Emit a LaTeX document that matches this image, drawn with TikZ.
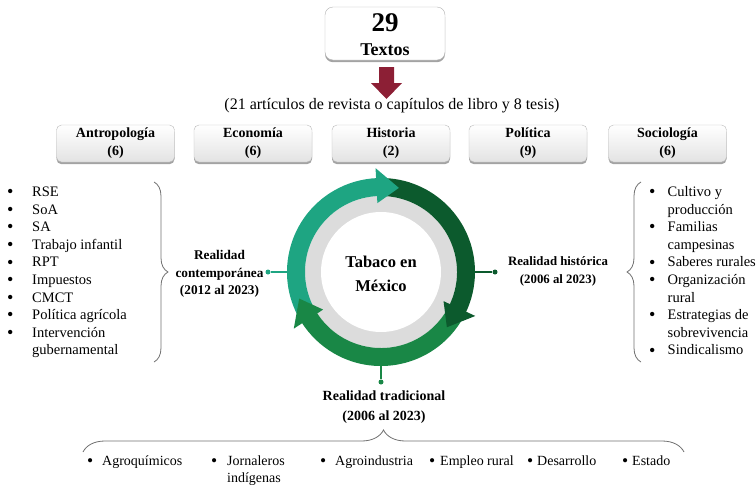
\documentclass[tikz,border=0pt]{standalone}
\usepackage{fontspec}
\usepackage{graphicx}
\setmainfont{Liberation Serif}
\usetikzlibrary{shadows,decorations.pathreplacing,calc}
\definecolor{tealA}{HTML}{1EA582}
\definecolor{dkgreen}{HTML}{0C5A2D}
\definecolor{mdgreen}{HTML}{198746}
\definecolor{ringgray}{HTML}{DCDCDC}
\definecolor{arrowred}{HTML}{8C1F35}
\definecolor{bracegray}{HTML}{707070}
\newcommand\mybul{\smash{\raisebox{-0.08em}{\scalebox{1.25}{\textbullet}}}}
\begin{document}
\begin{tikzpicture}[x=1pt,y=1pt,
  boxshadow/.style={drop shadow={shadow xshift=0pt,shadow yshift=-2.2pt,opacity=0.6,fill=black!60}},
  catbox/.style={draw=gray!55,rounded corners=5pt,top color=white,bottom color=gray!22,
    minimum width=118pt,minimum height=37pt,align=center,inner sep=0pt,
    font=\fontsize{14}{18}\selectfont\bfseries,boxshadow},
  topbox/.style={draw=gray!60,rounded corners=8pt,fill=white,minimum width=120pt,minimum height=53pt,
    inner sep=0pt,boxshadow},
  lbl/.style={align=center,inner sep=0pt},
  listnode/.style={inner sep=0pt,font=\fontsize{14.5}{17.6}\selectfont},
  itemnode/.style={inner sep=0pt,anchor=base west,font=\fontsize{14}{17}\selectfont},
  dot/.style={circle,inner sep=0pt,minimum size=5pt},
  conn/.style={line width=1.1pt},
  bracestyle/.style={draw=bracegray,line width=0.8pt,decorate},
]
\useasboundingbox (0,0) rectangle (756,-485);

% top box
\node[topbox] (total) at (385,-33.5) {};
\node[inner sep=0pt,font=\fontsize{27}{27}\selectfont\bfseries] (num) at (385,-23) {29};
\node[inner sep=0pt,font=\fontsize{18}{18}\selectfont\bfseries] (txt) at (385,-50) {Textos};

% red arrow
\coordinate (arTop) at (386.5,-67);
\fill[arrowred] (379,-67) -- (394,-67) -- (394,-83) -- (402,-83) -- (386.5,-99) -- (371,-83) -- (379,-83) -- cycle;

% subtitle
\node[inner sep=0pt,font=\fontsize{16}{18}\selectfont] (sub) at (392,-106)
  {(21 artículos de revista o capítulos de libro y 8 tesis)};

% categories
\node[catbox] (antro) at (115.5,-143.5) {Antropología\\(6)};
\node[catbox] (econ) at (253,-143.5) {Economía\\(6)};
\node[catbox] (hist) at (391,-143.5) {Historia\\(2)};
\node[catbox] (poli) at (528,-143.5) {Política\\(9)};
\node[catbox] (socio) at (667.5,-143.5) {Sociología\\(6)};

% ring
\node[circle,minimum size=188pt,inner sep=0pt] (ring) at (381,-272) {};
\begin{scope}[shift={(381,-272)}]
  \fill[ringgray] (0,0) circle (76);
  \fill[white] (0,0) circle (60);
  % bodies
  \fill[tealA] (210:94) arc[start angle=210,end angle=92,radius=94] -- (92:76) arc[start angle=92,end angle=210,radius=76] -- cycle;
  \fill[dkgreen] (90:94) arc[start angle=90,end angle=-26,radius=94] -- (-26:76) arc[start angle=-26,end angle=90,radius=76] -- cycle;
  \fill[mdgreen] (-30:94) arc[start angle=-30,end angle=-148,radius=94] -- (-148:76) arc[start angle=-148,end angle=-30,radius=76] -- cycle;
  % heads
  \fill[tealA] (93:104) -- (78:86) -- (93:69) -- cycle;
  \fill[dkgreen] (-25:104) -- (-40:86) -- (-25:69) -- cycle;
  \fill[mdgreen] (-147:104) -- (-162:86) -- (-147:69) -- cycle;
\end{scope}
\node[lbl,font=\fontsize{16.5}{24}\selectfont\bfseries] (ctext) at (381,-274) {Tabaco en\\México};

% connectors with dots
\node[dot,fill=tealA] (dL) at (268,-272) {};
\node[dot,fill=dkgreen] (dR) at (495,-272) {};
\node[dot,fill=mdgreen] (dB) at (381,-382) {};
\draw[conn,tealA] (ring.west) -- (dL);
\draw[conn,dkgreen] (ring.east) -- (dR);
\draw[conn,mdgreen] (ring.south) -- (dB);

% labels
\node[lbl,font=\fontsize{13.3}{17.5}\selectfont\bfseries] (lblL) at (219.5,-274) {Realidad\\contemporánea\\(2012 al 2023)};
\node[lbl,font=\fontsize{12.8}{18}\selectfont\bfseries] (lblR) at (558,-271) {Realidad histórica\\(2006 al 2023)};
\node[lbl,font=\fontsize{14}{19.5}\selectfont\bfseries] (lblB) at (384,-407) {Realidad tradicional\\(2006 al 2023)};

% braces
\coordinate (bLt) at (154,-182); \coordinate (bLb) at (154,-362);
\draw[bracestyle,decoration={brace,amplitude=14pt}] (bLt) -- (bLb);
\coordinate (bRt) at (641,-182); \coordinate (bRb) at (641,-362);
\draw[bracestyle,decoration={brace,amplitude=14pt}] (bRb) -- (bRt);
\coordinate (bBl) at (83,-452); \coordinate (bBr) at (684,-452);
\draw[bracestyle,decoration={brace,amplitude=22pt}] (bBl) -- (bBr);

% left list
\node[listnode,anchor=north west] (leftlist) at (7,-184) {%
\begin{tabular}{@{}p{25pt}@{}l@{}}
\mybul & RSE\\
\mybul & SoA\\
\mybul & SA\\
\mybul & Trabajo infantil\\
\mybul & RPT\\
\mybul & Impuestos\\
\mybul & CMCT\\
\mybul & Política agrícola\\
\mybul & Intervención\\
 & gubernamental
\end{tabular}};

% right list
\node[listnode,anchor=north west] (rightlist) at (649,-184) {%
\begin{tabular}{@{}p{18.5pt}@{}l@{}}
\mybul & Cultivo y\\
 & producción\\
\mybul & Familias\\
 & campesinas\\
\mybul & Saberes rurales\\
\mybul & Organización\\
 & rural\\
\mybul & Estrategias de\\
 & sobrevivencia\\
\mybul & Sindicalismo
\end{tabular}};

% bottom items
\node[itemnode] (i1) at (87,-465) {\makebox[15pt][l]{\mybul}Agroquímicos};
\node[itemnode] (i2) at (211,-465) {\makebox[16pt][l]{\mybul}\begin{tabular}[t]{@{}l@{}}Jornaleros\\indígenas\end{tabular}};
\node[itemnode] (i3) at (320,-465) {\makebox[15pt][l]{\mybul}Agroindustria};
\node[itemnode] (i4) at (429,-465) {\makebox[11pt][l]{\mybul}Empleo rural};
\node[itemnode] (i5) at (527,-465) {\makebox[10pt][l]{\mybul}Desarrollo};
\node[itemnode] (i6) at (622,-465) {\makebox[10pt][l]{\mybul}Estado};
\end{tikzpicture}
\end{document}
